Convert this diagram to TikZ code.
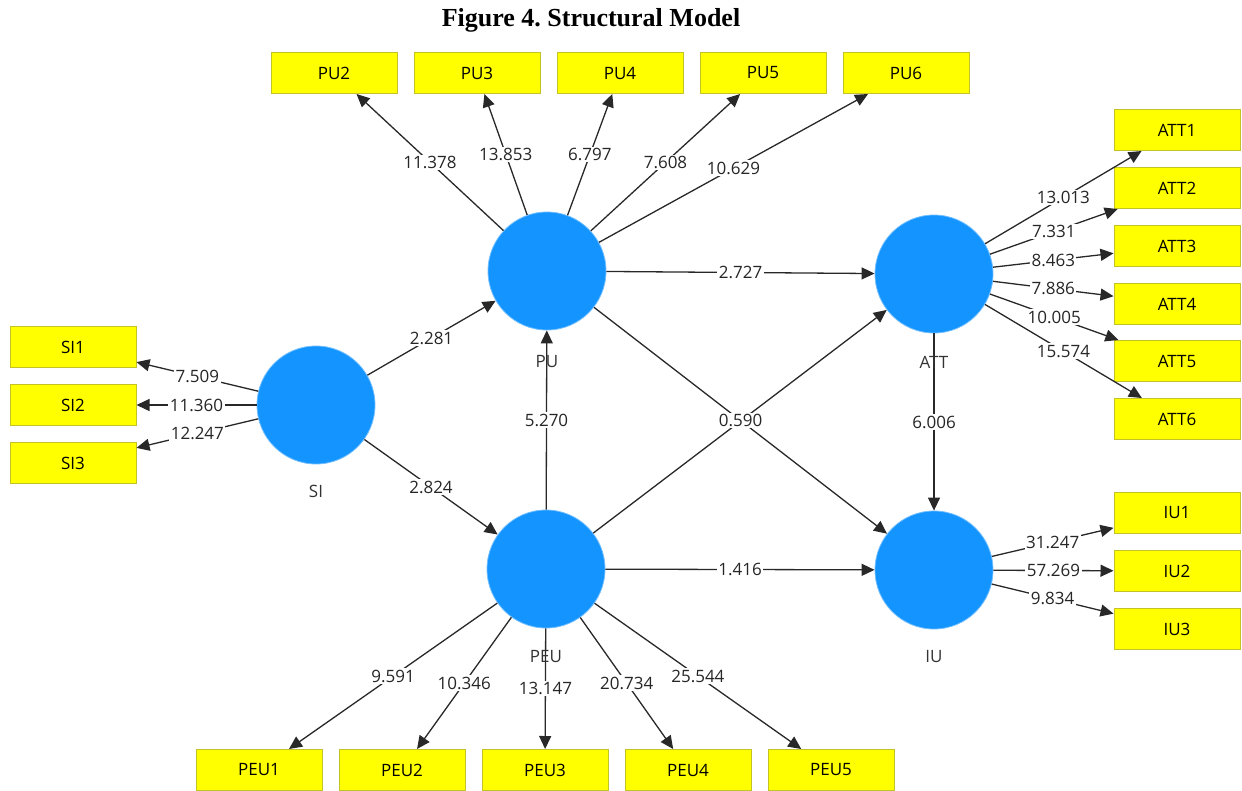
\documentclass[tikz,border=0pt]{standalone}
\usepackage{fontspec}
\setmainfont{Liberation Serif}
\newfontfamily\plsfont{Open Sans}
\usepackage{tikz}
\usetikzlibrary{arrows.meta}
\frenchspacing

\definecolor{lvblue}{RGB}{20,148,255}
\definecolor{itemyellow}{RGB}{255,255,0}
\definecolor{itemborder}{RGB}{195,195,40}
\definecolor{linegray}{RGB}{40,40,40}

\begin{document}
\begin{tikzpicture}[x=1pt, y=-1pt,
        latent/.style={circle, fill=lvblue, draw=lvblue!60!white, line width=0.8pt,
                minimum size=118pt, inner sep=0pt},
        item/.style={draw=itemborder, fill=itemyellow, line width=1pt, inner sep=0pt,
                minimum width=126pt, minimum height=41pt,
                font=\plsfont\fontsize{17}{20}\selectfont},
        lvname/.style={font=\plsfont\fontsize{17}{20}\selectfont, text=black!80},
        arrow/.style={-{Triangle[length=13pt, width=12pt]}, draw=linegray, line width=1.3pt},
        val/.style={fill=white, inner sep=1.5pt, text=black!85,
                font=\plsfont\fontsize{17}{20}\selectfont}
        ]

        \useasboundingbox (0,0) rectangle (1242,790);

        \node[font=\bfseries\fontsize{26}{30}\selectfont] (title) at (591,20) {Figure 4. Structural Model};

        % ---------------- Latent variables ----------------
        \node[latent] (SI)  at (316,405) {};
        \node[latent] (PU)  at (547,271) {};
        \node[latent] (PEU) at (546,569) {};
        \node[latent] (ATT) at (934,274) {};
        \node[latent] (IU)  at (934,570) {};

        % ---------------- Indicators ----------------------
        \node[item] (SI1) at (73,347) {SI1};
        \node[item] (SI2) at (73,405) {SI2};
        \node[item] (SI3) at (73,463) {SI3};

        \node[item] (PU2) at (334,73) {PU2};
        \node[item] (PU3) at (477,73) {PU3};
        \node[item] (PU4) at (620,73) {PU4};
        \node[item] (PU5) at (763,73) {PU5};
        \node[item] (PU6) at (906,73) {PU6};

        \node[item] (PEU1) at (259,770) {PEU1};
        \node[item] (PEU2) at (402,770) {PEU2};
        \node[item] (PEU3) at (545,770) {PEU3};
        \node[item] (PEU4) at (688,770) {PEU4};
        \node[item] (PEU5) at (831,770) {PEU5};

        \node[item] (ATT1) at (1177,130) {ATT1};
        \node[item] (ATT2) at (1177,188) {ATT2};
        \node[item] (ATT3) at (1177,246) {ATT3};
        \node[item] (ATT4) at (1177,304) {ATT4};
        \node[item] (ATT5) at (1177,361) {ATT5};
        \node[item] (ATT6) at (1177,419) {ATT6};

        \node[item] (IU1) at (1177,513) {IU1};
        \node[item] (IU2) at (1177,571) {IU2};
        \node[item] (IU3) at (1177,629) {IU3};

        % ---------------- Outer model ---------------------
        \draw[arrow] (SI) -- node[val] {7.509}  (SI1);
        \draw[arrow] (SI) -- node[val] {11.360} (SI2);
        \draw[arrow] (SI) -- node[val] {12.247} (SI3);

        \draw[arrow] (PU) -- node[val] {11.378} (PU2);
        \draw[arrow] (PU) -- node[val] {13.853} (PU3);
        \draw[arrow] (PU) -- node[val] {6.797}  (PU4);
        \draw[arrow] (PU) -- node[val] {7.608}  (PU5);
        \draw[arrow] (PU) -- node[val] {10.629} (PU6);

        \draw[arrow] (PEU) -- node[val] {9.591}  (PEU1);
        \draw[arrow] (PEU) -- node[val] {10.346} (PEU2);
        \draw[arrow] (PEU) -- node[val] {13.147} (PEU3);
        \draw[arrow] (PEU) -- node[val] {20.734} (PEU4);
        \draw[arrow] (PEU) -- node[val] {25.544} (PEU5);

        \draw[arrow] (ATT) -- node[val] {13.013} (ATT1);
        \draw[arrow] (ATT) -- node[val] {7.331}  (ATT2);
        \draw[arrow] (ATT) -- node[val] {8.463}  (ATT3);
        \draw[arrow] (ATT) -- node[val] {7.886}  (ATT4);
        \draw[arrow] (ATT) -- node[val] {10.005} (ATT5);
        \draw[arrow] (ATT) -- node[val] {15.574} (ATT6);

        \draw[arrow] (IU) -- node[val] {31.247} (IU1);
        \draw[arrow] (IU) -- node[val] {57.269} (IU2);
        \draw[arrow] (IU) -- node[val] {9.834}  (IU3);

        % ---------------- Inner model ---------------------
        \draw[arrow] (SI)  -- node[val] {2.281} (PU);
        \draw[arrow] (SI)  -- node[val] {2.824} (PEU);
        \draw[arrow] (PEU) -- node[val] {5.270} (PU);
        \draw[arrow] (PU)  -- node[val] {2.727} (ATT);
        \draw[arrow] (PEU) -- node[val] {1.416} (IU);
        \draw[arrow] (ATT) -- node[val] {6.006} (IU);
        \draw[arrow] (PEU) -- (ATT);
        \draw[arrow] (PU)  -- node[val] {0.590} (IU);

        % ---------------- Names under circles -------------
        \node[lvname] (SIname)  at (316,491) {SI};
        \node[lvname] (PUname)  at (547,362) {PU};
        \node[lvname] (PEUname) at (546,657) {PEU};
        \node[lvname] (ATTname) at (934,362) {ATT};
        \node[lvname] (IUname)  at (934,657) {IU};

    \end{tikzpicture}
\end{document}
